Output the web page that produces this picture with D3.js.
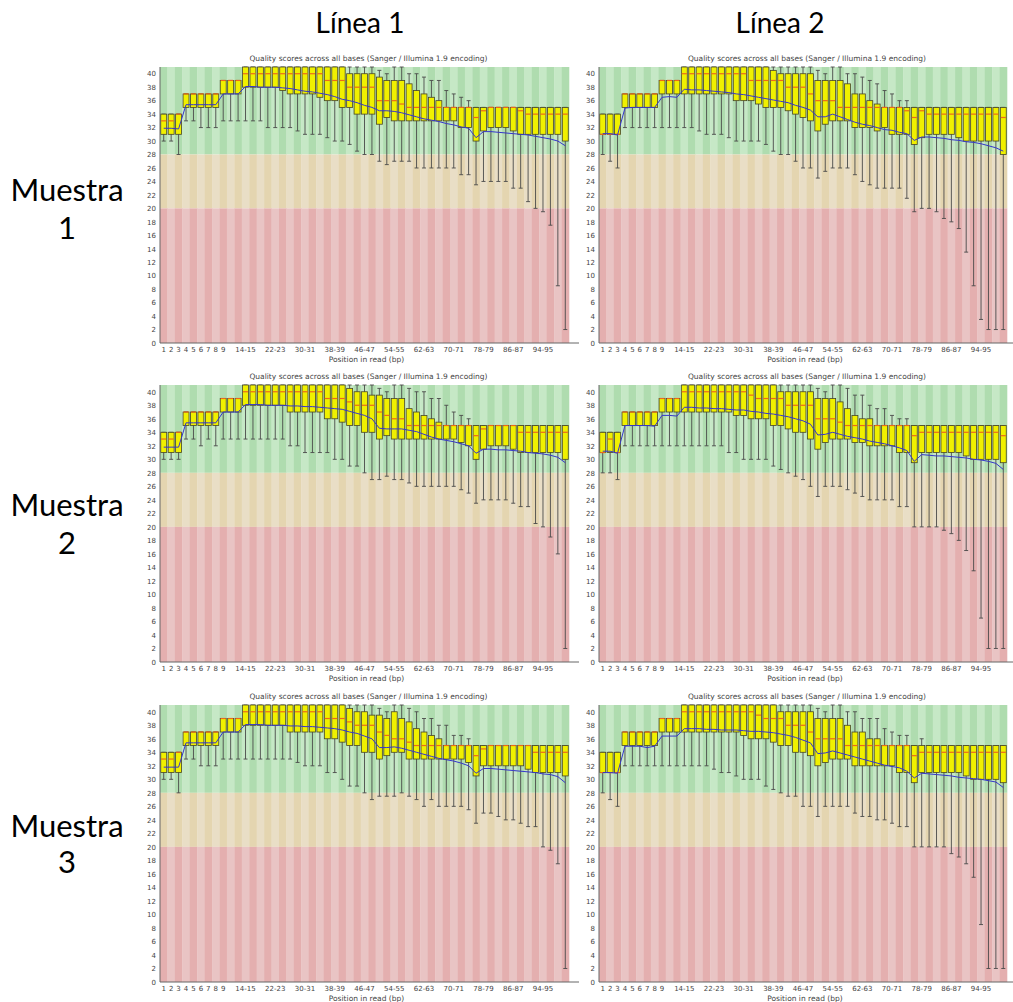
<!DOCTYPE html>
<html>
<head>
<meta charset="utf-8">
<script src="https://cdn.jsdelivr.net/npm/d3@7"></script>
<style>
  body { margin: 0; background: #fff; }
  svg text { font-family: "DejaVu Sans", sans-serif; }
</style>
</head>
<body>
<script>
// Posiciones (bases) de la lectura, tal como las agrupa FastQC
const positions = ["1","2","3","4","5","6","7","8","9",
  "10-11","12-13","14-15","16-17","18-19","20-21","22-23","24-25","26-27","28-29",
  "30-31","32-33","34-35","36-37","38-39","40-41","42-43","44-45","46-47","48-49",
  "50-51","52-53","54-55","56-57","58-59","60-61","62-63","64-65","66-67","68-69",
  "70-71","72-73","74-75","76-77","78-79","80-81","82-83","84-85","86-87","88-89",
  "90-91","92-93","94-95","96-97","98-99","100-101"];
const xTickLabels = ["1","2","3","4","5","6","7","8","9","14-15","22-23","30-31","38-39",
  "46-47","54-55","62-63","70-71","78-79","86-87","94-95"];
const yTicks = [0,2,4,6,8,10,12,14,16,18,20,22,24,26,28,30,32,34,36,38,40];
const colTitles = ["Línea 1", "Línea 2"];
const rowTitles = [["Muestra", "1"], ["Muestra", "2"], ["Muestra", "3"]];
const panelTitle = "Quality scores across all bases (Sanger / Illumina 1.9 encoding)";
const xAxisTitle = "Position in read (bp)";

// Línea 1 - Muestra 1
const l1m1Low = [30,30,28,33,33,32,32,32,33,33,33, 33,33,33,32,32,32,32,31.5,31,31,31, 30.5,30,30,29.5,28.5,28,28,27,26.5,27,27, 27,26,26,26,26,26,26,25,25,23.5,24, 24,24,24,23,23,21,20,19.5,17.5,8.5,2];
const l1m1Q1 = [31,31,31,35,35,35,35,35,37,37,37, 38,38,38,38,38,37.5,37,37,37,37,36.5, 36,36,35,35,34,34,34,32.5,33.5,33,33, 33,33,33,33,33,33,33,32,32,30,31.5, 32,32,32,31.5,31,31,31,31,31,31,30];
const l1m1Med = [33,33,34,37,37,37,37,37,39,39,39, 40,40,40,40,40,40,40,40,40,40,40, 39,39,39,38,38,38,38,36,36,36,35.5, 35,35,35,35,35,35,35,35,35,33.5,34.5, 35,35,35,35,34.5,34,34,34,34,34,34];
const l1m1Q3 = [34,34,34,37,37,37,37,37,39,39,39, 41,41,41,41,41,41,41,41,41,41,41, 41,41,41,40,40,40,40,39.5,39,39,39, 38.5,37.5,37,36.5,36,35,35,35,35,35,35, 35,35,35,35,35,35,35,35,35,35,35];
const l1m1High = [34,34,34,37,37,37,37,37,39,39,39, 41,41,41,41,41,41,41,41,41,41,41, 41,41,41,41,41,41,41,40.5,40,41,41, 40,40,39.5,39,39,37.5,37,36.5,36,35,35, 35,35,35,35,35,35,35,35,35,35,35];
const l1m1Mean = [31.9,31.9,31.8,35.4,35.4,35.4,35.4,35.4,37.0,37.0,37.0, 38.1,38.1,38.0,38.0,38.0,37.9,37.8,37.6,37.4,37.3,37.1, 36.9,36.6,36.2,36.0,35.7,35.3,35.0,34.5,34.5,34.4,34.2, 33.9,33.6,33.3,33.1,32.9,32.6,32.4,32.1,31.9,30.5,31.4, 31.4,31.3,31.2,31.1,31.0,30.9,30.7,30.5,30.3,30.0,29.3];

// Línea 2 - Muestra 1
const l2m1Low = [28,27,26,32,32,32,32,32,32,32,32, 32,32,31.5,31,31,31,30.5,30,30,30,30, 29.5,28.5,28,28,27,26,26,24.5,25.5,26,26, 26,25,24,23.5,23,23,23,23,21.5,19.5,20, 20,19.5,18.5,18,17,13.5,8.5,3.5,2,2,2];
const l2m1Q1 = [31,31,31,35,35,35,35,35,37,37,37, 37,37,37,37,37,37,37,36,36,36,35.5, 35,35,35,34.5,34,33.5,33,31.5,32.5,33,33, 33,32,32,32,31.5,32,31,31,31,29.5,30.5, 31,31,31,31,30.5,30,30,30,30,30,28];
const l2m1Med = [31,31,31,37,37,37,37,37,39,39,39, 40,40,40,40,40,40,40,40,40,39,39, 39,39,39,38,38,38,37,36,36,36,35, 35,35,35,35,35,35,35,35,34.5,33.5,34.5, 34,34,34,34,34,34,34,34,34,34,33.5];
const l2m1Q3 = [34,34,34,37,37,37,37,37,39,39,39, 41,41,41,41,41,41,41,41,41,41,41, 41,40.5,40,40,40,40,40,39,39,39,39, 38.5,37,37,36,35.5,35,35,35,35,35,35, 35,35,35,35,35,35,35,35,35,35,35];
const l2m1High = [34,34,34,37,37,37,37,37,39,39,39, 41,41,41,41,41,41,41,41,41,41,41, 41,41,41,41,41,41,41,40.5,40,41,41, 40,40,39.5,39,38.5,37.5,37,36,36,35,35, 35,35,35,35,35,35,35,35,35,35,35];
const l2m1Mean = [31.1,31.1,30.9,34.9,35.0,35.0,35.0,35.0,36.5,36.6,36.5, 37.7,37.6,37.6,37.5,37.4,37.3,37.2,37.0,36.9,36.7,36.5, 36.3,36.1,35.9,35.7,35.3,35.0,34.6,33.6,33.6,34.0,33.6, 33.2,32.8,32.5,32.3,32.0,31.7,31.6,31.3,31.1,30.1,30.6, 30.6,30.5,30.4,30.2,30.1,29.9,29.8,29.6,29.3,29.0,28.5];

// Línea 1 - Muestra 2
const l1m2Low = [30,30,30,33,33,32,33,32,33,33,33, 33,33,33,33,33,33,32,32,31,31,31, 31,30,30,29,29,28,27,27,27.5,27,27, 26.5,26,26,26,26,26,26,25.5,25,23.5,24, 24,24,24,23.5,23,23,20.5,20,18.5,16,2];
const l1m2Q1 = [31,31,31,35,35,35,35,35,37,37,37, 38,38,38,38,38,38,37,37,37,37,37, 36,36,35.5,35,35,34,34,33,33.5,33,33, 33,33,33,33,33,33,33,32.5,32,30,31.5, 32,32,32,31.5,31,31,31,31,31,31,30];
const l1m2Med = [33,33,34,37,37,37,37,37,39,39,39, 40,40,40,40,40,40,40,40,40,40,40, 39,39,39,38.5,38,38,38,37,36.5,36,36, 35,35,35,35,35,35,35,35,35,33.5,34.5, 35,35,35,35,34,34,34,34,34,34,34];
const l1m2Q3 = [34,34,34,37,37,37,37,37,39,39,39, 41,41,41,41,41,41,41,41,41,41,41, 41,41,41,40.5,40,40,39.5,39.5,39,39,39, 37.5,37,36.5,36,35.5,35,35,35,35,35,35, 35,35,35,35,35,35,35,35,35,35,35];
const l1m2High = [34,34,34,37,37,37,37,37,39,39,39, 41,41,41,41,41,41,41,41,41,41,41, 41,41,41,41,41,41,41,40.5,40,41,41, 40.5,40,40,39,39,38,37,36.5,36,35,35, 35,35,35,35,35,35,35,35,35,35,35];
const l1m2Mean = [31.8,31.8,31.8,35.4,35.4,35.4,35.4,35.4,37.0,37.0,37.0, 38.1,38.1,38.1,38.0,38.0,38.0,37.9,37.9,37.8,37.8,37.7, 37.6,37.5,37.4,37.1,36.8,36.5,36.0,34.6,34.5,34.5,34.5, 34.3,34.1,33.7,33.3,33.0,32.8,32.6,32.3,32.0,30.9,31.5, 31.5,31.4,31.4,31.3,31.2,31.0,30.9,30.8,30.6,30.3,29.5];

// Línea 2 - Muestra 2
const l2m2Low = [28,28,27,32,32,32,32,32,32,32,32, 32,32,32,32,32,32,31,31,30,30,30, 30,29,28.5,28,27.5,27,26,24.5,26,26,26, 25.5,25,24.5,24,24,24,24,23,23,20,20, 20,20,19.5,19,18,16.5,13.5,6.5,2,2,2];
const l2m2Q1 = [31,31,31,35,35,35,35,35,37,37,37, 37,37,37,37,37,37,37,36.5,36.5,36,36, 36,35,35,34.5,34,34,33,31.5,32.5,33,33, 33,32.5,32.5,32,32,32,32,31,31,29.5,31, 31,31,31,31,31,30.5,30,30,30,30,29.5];
const l2m2Med = [31,33,31,37,37,37,37,37,39,39,39, 40,40,40,40,40,40,40,40,40,39.5,39, 39,39,39,38,38,38,38,36,36,36,35.5, 35,35,35,35,35,35,35,35,35,33.5,34, 34,34,34,34,34,34,34,34,34,34,33.5];
const l2m2Q3 = [34,34,34,37,37,37,37,37,39,39,39, 41,41,41,41,41,41,41,41,41,41,41, 41,41,40,40,40,40,40,39,39,39,38.5, 37.5,36.5,36,36,35,35,35,35,35,35,35, 35,35,35,35,35,35,35,35,35,35,35];
const l2m2High = [34,34,34,37,37,37,37,37,39,39,39, 41,41,41,41,41,41,41,41,41,41,41, 41,41,41,41,41,41,41,40.5,40,41,41, 40.5,39.5,39.5,38,37.5,37.5,36.5,36,36,35,35, 35,35,35,35,35,35,35,35,35,35,35];
const l2m2Mean = [31.2,31.2,30.9,35.0,35.0,35.0,35.0,34.9,36.5,36.5,36.4, 37.7,37.7,37.6,37.6,37.5,37.5,37.4,37.3,37.3,37.1,37.0, 36.8,36.7,36.5,36.3,36.0,35.7,35.2,33.6,33.7,34.0,33.7, 33.4,33.2,33.0,32.7,32.5,32.3,32.0,31.7,31.3,29.7,30.7, 30.6,30.5,30.5,30.4,30.3,30.2,30.0,29.9,29.7,29.4,28.5];

// Línea 1 - Muestra 3
const l1m3Low = [30,30,28,33,33,32,32,32,33,33,33, 33,33,33,33,33,33,33,32.5,32,32,32, 31,31,30,29,29,28,27,27.5,27.5,27.5,28, 27.5,27,26,27,26,26,26,26,25.5,23.5,25, 25,24.5,24,24,23.5,23,23,20,19.5,17.5,2];
const l1m3Q1 = [31,31,31,35,35,35,35,35,37,37,37, 38,38,38,38,38,38,37,37,37,37,37, 36,36,35.5,35,35,34,34,33,33.5,34,34, 33,33,33,33,33,33,33,33,32.5,30.5,32, 32,32,32,32,32,31.5,31,31,31,31,30.5];
const l1m3Med = [33,33,34,37,37,37,37,37,39,39,39, 40,40,40,40,40,40,40,40,40,40,40, 39,39,39,38.5,38,38,38,37,36.5,36,36, 35.5,35,35,35,35,35,35,35,35,33.5,34.5, 35,35,35,35,35,35,34,34,34,34,34];
const l1m3Q3 = [34,34,34,37,37,37,37,37,39,39,39, 41,41,41,41,41,41,41,41,41,41,41, 41,41,41,40.5,40,40,39.5,39.5,39,40,39, 38.5,37.5,37,36.5,36,35,35,35,35,35,35, 35,35,35,35,35,35,35,35,35,35,35];
const l1m3High = [34,34,34,37,37,37,37,37,39,39,39, 41,41,41,41,41,41,41,41,41,41,41, 41,41,41,41,41,41,41,40.5,40,41,41, 40.5,40,39,39,38,38,36.5,36.5,36,35,35, 35,35,35,35,35,35,35,35,35,35,35];
const l1m3Mean = [31.8,31.8,31.8,35.4,35.4,35.4,35.4,35.4,37.0,37.0,37.0, 38.1,38.1,38.1,38.0,38.0,38.0,37.9,37.9,37.8,37.8,37.7, 37.6,37.5,37.3,37.0,36.8,36.4,36.0,34.7,34.7,34.8,34.6, 34.3,34.0,33.7,33.4,33.1,32.9,32.7,32.4,32.0,30.9,31.6, 31.6,31.5,31.4,31.3,31.2,31.1,31.0,30.8,30.7,30.4,29.5];

// Línea 2 - Muestra 3
const l2m3Low = [28,27,26,32,32,32,32,32,32,32,32, 32,32,32,32,31.5,31,31,30.5,30,30,30, 29,28.5,28,27.5,27.5,26,26,24.5,26,26,26, 26,25,24.5,24.5,24,24,23.5,23,23,20,20, 20,20,20,19,18.5,17.5,15.5,8.5,2,2,2];
const l2m3Q1 = [31,31,31,35,35,35,35,35,37,37,37, 37,37,37,37,37,37,37,37,36.5,36,36, 36,35.5,35,35,34,34,33.5,32,32.5,33,33, 33,32,32,32,32,32,32,31,31,29.5,31, 31,31,31,31,31,30.5,30,30,30,30,29.5];
const l2m3Med = [31,31,31,37,37,37,37,37,39,39,39, 40,40,40,40,40,40,40,40,40,40,39.5, 39,39,39,38,38,38,37,36,36,36,36, 35,35,35,35,35,35,35,35,35,33.5,34, 34,34,34,34,34,34,34,34,34,34,34];
const l2m3Q3 = [34,34,34,37,37,37,37,37,39,39,39, 41,41,41,41,41,41,41,41,41,41,41, 41,41,40,40,40,40,40,39,39,39,39, 38,37,37,36,36,35,35,35,35,35,35, 35,35,35,35,35,35,35,35,35,35,35];
const l2m3High = [34,34,34,37,37,37,37,37,39,39,39, 41,41,41,41,41,41,41,41,41,41,41, 41,41,41,41,41,41,41,40.5,40,41,41, 40,40,39,39,39,37.5,37,36.5,36.5,35,36, 35,35,35,35,35,35,35,35,35,35,35];
const l2m3Mean = [31.0,31.0,30.9,34.9,34.9,34.9,34.7,34.9,36.4,36.4,36.4, 37.5,37.5,37.5,37.4,37.4,37.3,37.3,37.3,37.2,37.1,37.1, 37.0,36.9,36.7,36.5,36.2,35.8,35.4,33.8,33.9,34.2,33.9, 33.6,33.3,33.0,32.7,32.4,32.1,31.9,31.7,31.2,30.2,30.9, 30.8,30.7,30.6,30.5,30.3,30.2,30.1,30.0,29.8,29.6,28.8];

// Zonas de calidad (buena / dudosa / mala)
const zoneLimits = [[28, 41], [20, 28], [0, 20]];
const zoneColors = [["#afdcaf", "#c6e8c6"], ["#e4d5b0", "#e9dec6"], ["#e4afaf", "#e9c4c4"]];

const panels = [
  { row: 0, col: 0, low: l1m1Low, q1: l1m1Q1, med: l1m1Med, q3: l1m1Q3, high: l1m1High, mean: l1m1Mean },
  { row: 0, col: 1, low: l2m1Low, q1: l2m1Q1, med: l2m1Med, q3: l2m1Q3, high: l2m1High, mean: l2m1Mean },
  { row: 1, col: 0, low: l1m2Low, q1: l1m2Q1, med: l1m2Med, q3: l1m2Q3, high: l1m2High, mean: l1m2Mean },
  { row: 1, col: 1, low: l2m2Low, q1: l2m2Q1, med: l2m2Med, q3: l2m2Q3, high: l2m2High, mean: l2m2Mean },
  { row: 2, col: 0, low: l1m3Low, q1: l1m3Q1, med: l1m3Med, q3: l1m3Q3, high: l1m3High, mean: l1m3Mean },
  { row: 2, col: 1, low: l2m3Low, q1: l2m3Q1, med: l2m3Med, q3: l2m3Q3, high: l2m3High, mean: l2m3Mean },
];

// Layout
const width = 1013;
const height = 1002;
const panelCols = [{ x: 160, w: 409 }, { x: 599, w: 408 }];
const panelRows = [{ y: 67, h: 276 }, { y: 385, h: 277 }, { y: 705, h: 277 }];

const svg = d3.select("body")
  .append("svg")
  .attr("width", width)
  .attr("height", height);

// cabeceras de columna
svg.selectAll(".col-title")
  .data(colTitles)
  .join("text")
  .attr("class", "col-title")
  .attr("x", (d, i) => [360, 780][i])
  .attr("y", 33)
  .attr("text-anchor", "middle")
  .style("font-family", "Lato, 'Open Sans', sans-serif")
  .style("font-size", "28px")
  .style("fill", "#000")
  .text(d => d);

// etiquetas de fila
const rowLabelY = [[201, 239], [516, 554], [837, 873]];
rowTitles.forEach((lines, r) => {
  lines.forEach((line, k) => {
    svg.append("text")
      .attr("x", 67)
      .attr("y", rowLabelY[r][k])
      .attr("text-anchor", "middle")
      .style("font-family", "Lato, 'Open Sans', sans-serif")
      .style("font-size", "31px")
      .style("fill", "#000")
      .text(line);
  });
});

function drawPanel(d) {
  const w = panelCols[d.col].w;
  const h = panelRows[d.row].h;
  const g = svg.append("g")
    .attr("transform", `translate(${panelCols[d.col].x}, ${panelRows[d.row].y})`);

  const x = d3.scaleBand().domain(positions).range([0, w]);
  const y = d3.scaleLinear().domain([0, 41]).range([h, 0]);
  const bw = x.bandwidth();
  const boxW = bw * 0.8;
  const cx = p => x(p) + bw / 2;

  // fondo a franjas
  zoneLimits.forEach((z, k) => {
    g.append("g")
      .selectAll("rect")
      .data(positions)
      .join("rect")
      .attr("x", p => x(p))
      .attr("y", y(z[1]))
      .attr("width", bw + 0.3)
      .attr("height", y(z[0]) - y(z[1]))
      .attr("fill", (p, i) => zoneColors[k][i % 2]);
  });

  const rows = positions.map((p, i) => ({
    p: p, low: d.low[i], q1: d.q1[i], med: d.med[i], q3: d.q3[i], high: d.high[i], mean: d.mean[i]
  }));

  const boxes = g.append("g")
    .selectAll("g")
    .data(rows)
    .join("g");

  // bigotes
  boxes.append("line")
    .attr("x1", r => cx(r.p)).attr("x2", r => cx(r.p))
    .attr("y1", r => y(r.low)).attr("y2", r => y(r.high))
    .attr("stroke", "#4a4a4a").attr("stroke-width", 0.9);
  boxes.append("line")
    .attr("x1", r => cx(r.p) - 2).attr("x2", r => cx(r.p) + 2)
    .attr("y1", r => y(r.low)).attr("y2", r => y(r.low))
    .attr("stroke", "#4a4a4a").attr("stroke-width", 0.9);
  boxes.append("line")
    .attr("x1", r => cx(r.p) - 2).attr("x2", r => cx(r.p) + 2)
    .attr("y1", r => y(r.high)).attr("y2", r => y(r.high))
    .attr("stroke", "#4a4a4a").attr("stroke-width", 0.9);

  // cajas
  boxes.append("rect")
    .attr("x", r => cx(r.p) - boxW / 2)
    .attr("width", boxW)
    .attr("y", r => y(r.q3))
    .attr("height", r => y(r.q1) - y(r.q3))
    .attr("fill", "#f0f000")
    .attr("stroke", "#45452a")
    .attr("stroke-width", 0.8);

  // mediana
  boxes.append("line")
    .attr("x1", r => cx(r.p) - boxW / 2 + 0.4).attr("x2", r => cx(r.p) + boxW / 2 - 0.4)
    .attr("y1", r => y(r.med)).attr("y2", r => y(r.med))
    .attr("stroke", "#ec6a1a").attr("stroke-width", 1.2);

  // media
  g.append("path")
    .datum(rows)
    .attr("d", d3.line().x(r => cx(r.p)).y(r => y(r.mean)))
    .attr("fill", "none")
    .attr("stroke", "#3535cc")
    .attr("stroke-width", 1);

  // ejes
  const ejeY = g.append("g")
    .call(d3.axisLeft(y).tickValues(yTicks).tickSize(0).tickPadding(4));
  ejeY.select(".domain").remove();
  ejeY.selectAll("text").style("font-size", "7px").style("fill", "#444")
    .style("font-family", "'DejaVu Sans', sans-serif");

  const ejeX = g.append("g")
    .attr("transform", `translate(0, ${h})`)
    .call(d3.axisBottom(x).tickValues(xTickLabels).tickSize(0).tickPadding(4));
  ejeX.select(".domain").remove();
  ejeX.selectAll("text").style("font-size", "7px").style("fill", "#444")
    .style("font-family", "'DejaVu Sans', sans-serif");

  g.append("line")
    .attr("x1", 0).attr("x2", 0).attr("y1", 0).attr("y2", h)
    .attr("stroke", "#666").attr("stroke-width", 1);
  g.append("line")
    .attr("x1", 0).attr("x2", w + 10).attr("y1", h).attr("y2", h)
    .attr("stroke", "#666").attr("stroke-width", 1);

  // titulos
  g.append("text")
    .attr("x", w / 2 + 4)
    .attr("y", -6)
    .attr("text-anchor", "middle")
    .style("font-size", "7.5px")
    .style("fill", "#444")
    .text(panelTitle);

  g.append("text")
    .attr("x", w / 2 + 2)
    .attr("y", h + 18.5)
    .attr("text-anchor", "middle")
    .style("font-size", "7.5px")
    .style("fill", "#444")
    .text(xAxisTitle);
}

panels.forEach(drawPanel);
</script>
</body>
</html>
